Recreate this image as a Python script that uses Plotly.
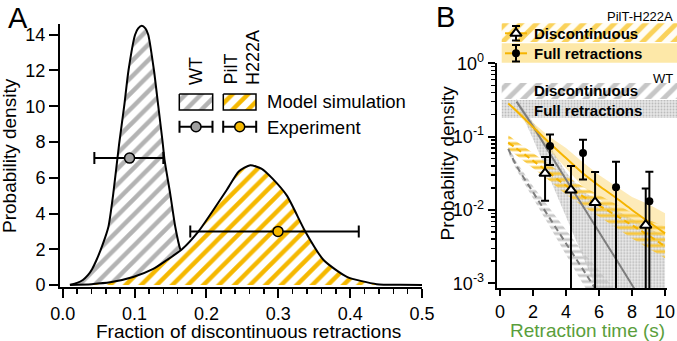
import plotly.graph_objects as go

W, H = 677, 341
FONT = "Liberation Sans, Arial, sans-serif"

# ---------------- Panel A data ----------------
wt_x = [0.010, 0.020, 0.028, 0.035, 0.041, 0.047, 0.055, 0.0636, 0.070, 0.0785, 0.0855, 0.0915,
        0.1007, 0.105, 0.110, 0.115, 0.119, 0.127, 0.133, 0.139, 0.1417, 0.1496, 0.1566, 0.1636, 0.170]
wt_y = [0.02, 0.12, 0.28, 0.55, 0.9, 1.4, 2.2, 3.26, 5.0, 7.9, 10.0, 12.0,
        14.0, 14.35, 14.5, 14.35, 14.0, 12.0, 10.0, 8.0, 7.0, 5.1, 3.26, 2.0, 1.5]

mut_x = [0.01, 0.04, 0.066, 0.098, 0.126, 0.145, 0.166, 0.189, 0.208, 0.228, 0.245, 0.261,
         0.277, 0.292, 0.312, 0.3375, 0.363, 0.3955, 0.437, 0.47, 0.5]
mut_y = [0.0, 0.05, 0.15, 0.45, 0.9, 1.4, 2.0, 3.0, 4.1, 5.3, 6.35, 6.7,
         6.5, 5.95, 5.0, 3.0, 1.4, 0.46, 0.05, 0.01, 0.0]

exp_x = [0.093, 0.2996]
exp_y = [7.1, 3.0]
exp_lo = [0.044, 0.1775]
exp_hi = [0.140, 0.412]

# ---------------- Panel B data ----------------
t_fit = [0.5, 1, 2, 3, 4, 5, 6, 7, 8, 9, 10]
mut_full = [0.284, 0.224, 0.135, 0.082, 0.051, 0.032, 0.0214, 0.0148, 0.010, 0.0069, 0.0048]
mut_full_hi = [0.29, 0.24, 0.155, 0.10, 0.07, 0.045, 0.03, 0.021, 0.015, 0.012, 0.009]
mut_full_lo = [0.28, 0.21, 0.12, 0.065, 0.037, 0.021, 0.014, 0.0095, 0.0068, 0.0053, 0.0043]
mut_disc = [0.083, 0.069, 0.047, 0.032, 0.0214, 0.0155, 0.0115, 0.0085, 0.0062, 0.0045, 0.0032]
mut_disc_hi = [0.105, 0.086, 0.06, 0.041, 0.029, 0.021, 0.016, 0.012, 0.0092, 0.0073, 0.006]
mut_disc_lo = [0.068, 0.056, 0.037, 0.025, 0.0162, 0.0113, 0.008, 0.0058, 0.0041, 0.003, 0.0022]

t_wt_full = [1, 2, 3, 4, 5, 6, 7, 8, 9, 10]
wt_full = [0.30, 0.138, 0.060, 0.026, 0.0115, 0.005, 0.0022, 0.00095, 0.0004, 0.00018]
wt_full_hi = [0.33, 0.16, 0.075, 0.033, 0.018, 0.0134, 0.010, 0.0075, 0.0057, 0.0043]
wt_full_lo = [0.29, 0.093, 0.027, 0.0081, 0.0024, 0.0007, 0.0002, 0.00006, 0.00002, 0.00001]

t_wt_disc = [0.5, 1, 2, 3, 4, 5, 6, 7]
wt_disc = [0.068, 0.040, 0.0175, 0.0078, 0.0035, 0.00158, 0.0007, 0.0003]
wt_disc_hi = [0.076, 0.045, 0.021, 0.0105, 0.0052, 0.0027, 0.0015, 0.0008]
wt_disc_lo = [0.060, 0.035, 0.0145, 0.006, 0.0025, 0.001, 0.00045, 0.00018]

tri_t = [2.73, 4.30, 5.76, 8.83]
tri_y = [0.0316, 0.0187, 0.0127, 0.0062]
tri_hi = [0.053, 0.0397, 0.033, 0.0197]
tri_lo = [0.0134, 0, 0, 0]

circ_t = [3.03, 5.03, 7.03, 9.05]
circ_y = [0.0744, 0.060, 0.0204, 0.0132]
circ_hi = [0.107, 0.091, 0.0455, 0.0332]
circ_lo = [0.041, 0.026, 0, 0]

GRAY = "#b3b3b3"
YEL = "#f5b800"
LGRAY_LINE = "#7d7d7d"
YEL_LINE = "#f5b400"
GREEN = "#5a9e3c"

fig = go.Figure()

# ---------------- Panel A traces ----------------
fig.add_trace(go.Scatter(x=wt_x, y=wt_y, mode="lines", line=dict(color="black", width=2, shape="spline", smoothing=0.6),
                         fill="tozeroy", fillpattern=dict(shape="/", fgcolor=GRAY, bgcolor="white", size=11, solidity=0.4),
                         xaxis="x", yaxis="y", showlegend=False))
fig.add_trace(go.Scatter(x=mut_x, y=mut_y, mode="lines", line=dict(color="black", width=2, shape="spline", smoothing=0.6),
                         fill="tozeroy", fillpattern=dict(shape="/", fgcolor=YEL, bgcolor="white", size=11, solidity=0.4),
                         xaxis="x", yaxis="y", showlegend=False))
for i, col in enumerate(["#a0a0a0", YEL]):
    fig.add_trace(go.Scatter(x=[exp_x[i]], y=[exp_y[i]], mode="markers",
                             marker=dict(size=10, color=col, line=dict(color="black", width=1.5)),
                             error_x=dict(type="data", symmetric=False, array=[exp_hi[i] - exp_x[i]],
                                          arrayminus=[exp_x[i] - exp_lo[i]], color="black", thickness=2, width=6),
                             xaxis="x", yaxis="y", showlegend=False))

# ---------------- Overlay (legend decorations, pixel coords) ----------------
def rect(x0, x1, y0, y1):
    return [x0, x1, x1, x0, x0], [y0, y0, y1, y1, y0]

ov = dict(xaxis="x2", yaxis="y2", showlegend=False, hoverinfo="skip")
for (x0, x1, col) in [(179.3, 212.7, GRAY), (223.3, 256, YEL)]:
    rx, ry = rect(x0, x1, 94, 110)
    fig.add_trace(go.Scatter(x=rx, y=ry, mode="lines", fill="toself",
                             fillpattern=dict(shape="/", fgcolor=col, bgcolor="white", size=11, solidity=0.4),
                             line=dict(color="black", width=1.5), **ov))
for (cx, col) in [(196, "#a0a0a0"), (239.7, YEL)]:
    fig.add_trace(go.Scatter(x=[cx], y=[126.7], mode="markers",
                             marker=dict(size=10, color=col, line=dict(color="black", width=1.5)),
                             error_x=dict(type="constant", value=16.5, color="black", thickness=2, width=6), **ov))
rx, ry = rect(501.7, 677, 23.3, 42)
fig.add_trace(go.Scatter(x=rx, y=ry, mode="lines", fill="toself", line=dict(width=0),
                         fillpattern=dict(shape="/", fgcolor="#fad25a", bgcolor="#fffdf5", size=11, solidity=0.45), **ov))
rx, ry = rect(501.7, 677, 43.3, 62.7)
fig.add_trace(go.Scatter(x=rx, y=ry, mode="lines", fill="toself", line=dict(width=0), fillcolor="#fde8a8", **ov))
rx, ry = rect(501.7, 677, 83, 99)
fig.add_trace(go.Scatter(x=rx, y=ry, mode="lines", fill="toself", line=dict(width=0),
                         fillpattern=dict(shape="/", fgcolor="#c6c6c6", bgcolor="white", size=11, solidity=0.45), **ov))
rx, ry = rect(501.7, 677, 100, 118)
fig.add_trace(go.Scatter(x=rx, y=ry, mode="lines", fill="toself", line=dict(width=0),
                         fillpattern=dict(shape=".", fgcolor="#bcbcbc", bgcolor="#e6e6e6", size=3, solidity=0.3), **ov))
for yy in [33.3, 53.3]:
    fig.add_trace(go.Scatter(x=[505, 527], y=[yy, yy], mode="lines", line=dict(color=YEL_LINE, width=2), **ov))
fig.add_trace(go.Scatter(x=[516], y=[33.3], mode="markers",
                         marker=dict(symbol="triangle-up", size=10, color="white", line=dict(color="black", width=2)),
                         error_y=dict(type="constant", value=7.3, color="black", thickness=2, width=4), **ov))
fig.add_trace(go.Scatter(x=[516], y=[53.3], mode="markers",
                         marker=dict(symbol="circle", size=8, color="black"),
                         error_y=dict(type="constant", value=8.3, color="black", thickness=2, width=4), **ov))

# ---------------- Panel B traces ----------------
b = dict(xaxis="x3", yaxis="y3", showlegend=False)

def band(t, hi, lo):
    return list(t) + list(t)[::-1], list(hi) + list(lo)[::-1]

bx, by = band(t_wt_disc, wt_disc_hi, wt_disc_lo)
fig.add_trace(go.Scatter(x=bx, y=by, mode="lines", fill="toself", line=dict(width=0),
                         fillpattern=dict(shape="-", fgcolor="#c8c8c8", bgcolor="rgba(255,255,255,0)", size=6, solidity=0.5), **b))
bx, by = band(t_wt_full, wt_full_hi, wt_full_lo)
fig.add_trace(go.Scatter(x=bx, y=by, mode="lines", fill="toself", line=dict(width=0),
                         fillpattern=dict(shape=".", fgcolor="#b0b0b0", bgcolor="rgba(215,215,215,0.5)", size=3, solidity=0.3), **b))
bx, by = band(t_fit, mut_full_hi, mut_full_lo)
fig.add_trace(go.Scatter(x=bx, y=by, mode="lines", fill="toself", line=dict(width=0),
                         fillcolor="rgba(250,205,80,0.4)", **b))
bx, by = band(t_fit, mut_disc_hi, mut_disc_lo)
fig.add_trace(go.Scatter(x=bx, y=by, mode="lines", fill="toself", line=dict(width=0),
                         fillpattern=dict(shape="-", fgcolor="#f8c840", bgcolor="rgba(255,255,255,0)", size=6, solidity=0.5), **b))

fig.add_trace(go.Scatter(x=t_wt_disc, y=wt_disc, mode="lines", line=dict(color=LGRAY_LINE, width=2, dash="6px,4px", shape="spline"), **b))
fig.add_trace(go.Scatter(x=t_wt_full, y=wt_full, mode="lines", line=dict(color=LGRAY_LINE, width=2, shape="spline"), **b))
fig.add_trace(go.Scatter(x=t_fit, y=mut_disc, mode="lines", line=dict(color=YEL_LINE, width=2, dash="6px,4px", shape="spline"), **b))
fig.add_trace(go.Scatter(x=t_fit, y=mut_full, mode="lines", line=dict(color=YEL_LINE, width=2, shape="spline"), **b))

FLOOR = 1e-5
fig.add_trace(go.Scatter(x=circ_t, y=circ_y, mode="markers", marker=dict(symbol="circle", size=8, color="black"),
                         error_y=dict(type="data", symmetric=False,
                                      array=[h - v for h, v in zip(circ_hi, circ_y)],
                                      arrayminus=[v - max(l, FLOOR) for l, v in zip(circ_lo, circ_y)],
                                      color="black", thickness=2, width=4), **b))
fig.add_trace(go.Scatter(x=tri_t, y=tri_y, mode="markers",
                         marker=dict(symbol="triangle-up", size=10, color="white", line=dict(color="black", width=2)),
                         error_y=dict(type="data", symmetric=False,
                                      array=[h - v for h, v in zip(tri_hi, tri_y)],
                                      arrayminus=[v - max(l, FLOOR) for l, v in zip(tri_lo, tri_y)],
                                      color="black", thickness=2, width=4), **b))

# ---------------- Layout ----------------
tickfont = dict(family=FONT, size=18, color="black")
axcommon = dict(showline=True, linewidth=2, linecolor="black", ticks="outside", tickwidth=2,
                tickcolor="black", showgrid=False, zeroline=False, tickfont=tickfont, automargin=False)

fig.update_layout(
    template="none",
    width=W, height=H, margin=dict(l=0, r=0, t=0, b=0, autoexpand=False),
    paper_bgcolor="white", plot_bgcolor="rgba(0,0,0,0)",
    font=dict(family=FONT, color="black"),
    showlegend=False,
    xaxis=dict(domain=[60 / W, 422 / W], range=[-0.0038, 0.5], anchor="y", ticklen=9,
               tickmode="linear", tick0=0, dtick=0.1, tickformat=".1f",
               minor=dict(ticks="outside", ticklen=5, tickwidth=1.5, tickcolor="black", dtick=0.02, tick0=0, showgrid=False),
               **axcommon),
    yaxis=dict(domain=[1 - 287 / H, 1 - 24 / H], range=[-0.11, 14.6], anchor="x", ticklen=9,
               tickmode="linear", tick0=0, dtick=2, **axcommon),
    xaxis2=dict(domain=[0, 1], range=[0, W], anchor="y2", visible=False, fixedrange=True, automargin=False),
    yaxis2=dict(domain=[0, 1], range=[H, 0], anchor="x2", visible=False, fixedrange=True, automargin=False),
    xaxis3=dict(domain=[496.7 / W, 666.7 / W], range=[-0.2, 10.1], anchor="y3", ticklen=6,
                tickmode="array", tickvals=[0, 2, 4, 6, 8, 10], **axcommon),
    yaxis3=dict(domain=[1 - 288.3 / H, 1 - 62.6 / H], type="log", range=[-3.068, 0.01], anchor="x3", ticklen=7,
                tickmode="array", tickvals=[1e-3, 1e-2, 1e-1, 1],
                ticktext=["10<sup>-3</sup>", "10<sup>-2</sup>", "10<sup>-1</sup>", "10<sup>0</sup>"],
                minor=dict(ticks="outside", ticklen=4, tickwidth=1.5, tickcolor="black",
                           tickmode="array", showgrid=False,
                           tickvals=[m * 10 ** e for e in (-3, -2, -1) for m in range(2, 10)]),
                **axcommon),
)

def ann(text, x, y, size, angle=0, xanchor="center", yanchor="middle", color="black", bold=False):
    if bold:
        text = "<b>" + text + "</b>"
    fig.add_annotation(text=text, x=x, y=y, xref="x2", yref="y2", showarrow=False,
                       textangle=angle, xanchor=xanchor, yanchor=yanchor,
                       font=dict(family=FONT, size=size, color=color))

ann("A", 17.5, 18, 29)
ann("B", 445, 17, 29)
ann("Probability density", 9, 156, 19, angle=-90)
ann("Fraction of discontinuous retractions", 248, 331, 19)
ann("Probability density", 446.5, 163, 19, angle=-90)
ann("Retraction time (s)", 587, 330, 19, color=GREEN)
ann("WT", 196, 87, 18, angle=-90, yanchor="bottom")
ann("PilT", 230, 87, 18, angle=-90, yanchor="bottom")
ann("H222A", 252.5, 87, 18, angle=-90, yanchor="bottom")
ann("Model simulation", 265, 101.7, 18.5, xanchor="left")
ann("Experiment", 265, 127, 18.5, xanchor="left")
ann("PilT-H222A", 675, 16.7, 13, xanchor="right")
ann("WT", 675, 78, 13, xanchor="right")
ann("Discontinuous", 531.7, 33.3, 15, xanchor="left", bold=True)
ann("Full retractions", 531.7, 53.3, 15, xanchor="left", bold=True)
ann("Discontinuous", 531.7, 90.5, 15, xanchor="left", bold=True)
ann("Full retractions", 531.7, 110, 15, xanchor="left", bold=True)

fig.write_html("out.html", config={"displayModeBar": False, "staticPlot": True},
               post_script="document.body.style.margin='0';document.body.style.overflow='hidden';")
